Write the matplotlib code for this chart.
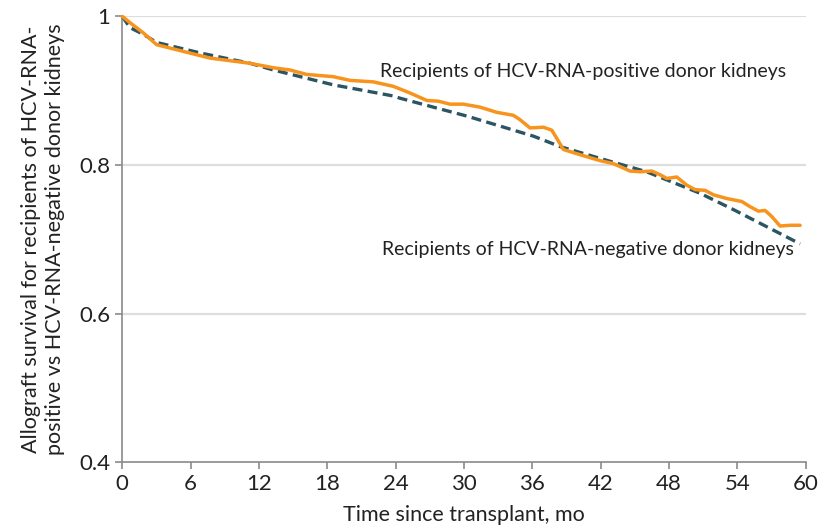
import matplotlib.pyplot as plt

# orange: recipients of HCV-RNA-positive donor kidneys
pos_t = [0, 0.9, 1.84, 3.02, 5.36, 7.70, 11.21, 13.26, 14.72, 16.19, 18.52, 19.99, 22.04,
         23.79, 25.26, 26.73, 27.75, 28.77, 29.94, 31.40, 32.87, 34.33, 34.92, 35.79,
         36.96, 37.70, 38.14, 38.72, 40.18, 41.94, 43.11, 44.57, 45.45, 46.48, 47.21,
         47.80, 48.67, 49.55, 50.28, 51.16, 51.89, 53.06, 54.38, 55.11, 55.84, 56.42,
         57.00, 57.74, 58.62, 59.50]
pos_s = [1.0, 0.989, 0.978, 0.962, 0.953, 0.944, 0.937, 0.931, 0.928, 0.922, 0.919, 0.914, 0.912,
         0.906, 0.897, 0.887, 0.886, 0.882, 0.882, 0.878, 0.871, 0.867, 0.861, 0.850,
         0.851, 0.847, 0.836, 0.821, 0.814, 0.806, 0.802, 0.792, 0.791, 0.792, 0.787,
         0.782, 0.784, 0.773, 0.767, 0.766, 0.760, 0.755, 0.751, 0.744, 0.738, 0.739,
         0.731, 0.718, 0.719, 0.719]

# dashed: recipients of HCV-RNA-negative donor kidneys
neg_t = [0, 0.68, 1.84, 3.02, 6.82, 11.21, 13.26, 18.52, 23.79, 24.38, 28.77, 30.24,
         36.08, 38.42, 41.94, 46.03, 50.73, 53.66, 56.58, 59.50]
neg_s = [1.0, 0.985, 0.976, 0.965, 0.951, 0.937, 0.928, 0.908, 0.893, 0.890, 0.872, 0.866,
         0.839, 0.825, 0.809, 0.791, 0.762, 0.740, 0.717, 0.694]

x_ticks = [0, 6, 12, 18, 24, 30, 36, 42, 48, 54, 60]
y_ticks = [0.4, 0.6, 0.8, 1.0]
y_tick_labels = ['0.4', '0.6', '0.8', '1']

plt.rcParams['font.family'] = ['Lato', 'DejaVu Sans']

fig = plt.figure(figsize=(8.23, 5.30), dpi=100)
ax = fig.add_axes([0.1486, 0.1277, 0.8305, 0.8412])

ax.plot(neg_t, neg_s, color='#2b5563', lw=2.4, linestyle=(0, (3, 1.6)),
        clip_on=False, zorder=3)
ax.plot(pos_t, pos_s, color='#f7941d', lw=2.5, solid_joinstyle='round',
        solid_capstyle='round', clip_on=False, zorder=4)

ax.set_xlim(0, 60)
ax.set_ylim(0.4, 1.0)
ax.set_xticks(x_ticks)
ax.set_yticks(y_ticks)
ax.set_yticklabels(y_tick_labels)

for y in [0.6, 0.8, 1.0]:
    ax.axhline(y, color='#dddddd', lw=1.6, zorder=1)

for s in ['top', 'right']:
    ax.spines[s].set_visible(False)
for s in ['left', 'bottom']:
    ax.spines[s].set_color('#8a8a8a')
    ax.spines[s].set_linewidth(1.2)
ax.tick_params(colors='#8a8a8a', labelcolor='#222222', labelsize=16, length=5, width=1.2)

ax.set_xlabel('Time since transplant, mo', fontsize=15.5, color='#222222', labelpad=8)
ax.set_ylabel('Allograft survival for recipients of HCV-RNA-\npositive vs HCV-RNA-negative donor kidneys',
              fontsize=15.5, color='#222222', labelpad=10, linespacing=1.25)

ax.text(22.6, 0.926, 'Recipients of HCV-RNA-positive donor kidneys', fontsize=14,
        color='#222222', va='center', ha='left')
ax.text(22.8, 0.686, 'Recipients of HCV-RNA-negative donor kidneys', fontsize=14,
        color='#222222', va='center', ha='left')

fig.savefig('out.png', dpi=100)
